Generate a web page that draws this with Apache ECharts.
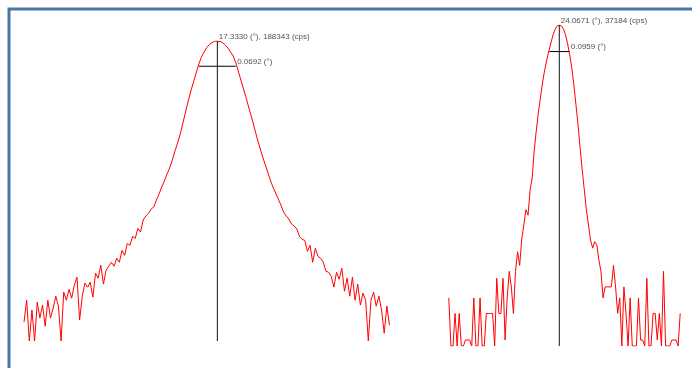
<!DOCTYPE html>
<html><head><meta charset="utf-8">
<script src="https://cdn.jsdelivr.net/npm/echarts@6/dist/echarts.min.js"></script>
<style>html,body{margin:0;padding:0;background:#fff}#c{width:692px;height:368px}</style>
</head><body><div id="c"></div>
<script>
// Left scan: 2θ start/step (deg) and intensities (cps)
const leftStart = 16.968;
const leftStep = 0.005;
const leftCps = [84,153,50,117,50,145,94,134,75,153,94,123,171,130,50,
191,153,207,162,231,288,89,171,244,219,251,167,321,280,400,
238,349,389,434,389,484,434,602,525,729,691,883,836,1099,996,
1384,1545,1655,1871,1978,2396,2825,3423,4036,4892,5768,7182,9196,11450,14660,
19830,26820,36260,47730,61100,78210,100100,121340,139160,157480,171000,180650,186700,188343,
185660,180650,168660,155350,139160,124700,102920,80390,62800,49070,38320,29130,22750,17290,13140,
10260,8017,6436,5168,4150,3423,2904,2463,2089,1724,1545,1423,1240,1174,1081,
883,814,792,586,691,434,636,511,484,434,339,330,296,219,330,
272,368,196,280,171,288,153,238,134,186,153,50,153,191,130,
171,117,62,130,77];

// Right scan
const rightStart = 23.5371;
const rightStep = 0.01;
const rightCps = [30,0,0,20,0,20,0,0,10,10,
10,0,30,0,0,30,0,0,20,20,
20,20,0,50,20,20,50,10,30,60,
40,20,60,100,70,140,200,300,260,502,
687,1427,2404,3846,5690,8414,11510,14950,18910,23300,
28720,33150,36320,37184,36320,33590,28720,22700,17030,12130,
7786,4617,2739,1503,846,502,298,201,136,110,
130,120,80,60,30,40,40,40,40,70,
40,20,30,0,40,20,0,30,0,0,
0,30,10,10,0,50,0,0,20,20,
10,20,0,60,0,0,0,10,10,10,0,20];

// Peak results
const peakAngles = [17.3330, 24.0671];
const peakCps = [188343, 37184];
const fwhms = [0.0692, 0.0959];
const axisMinCps = [50, 8.55];

function pts(start, step, vals, floor){
  return vals.map((v,i)=>[start + i*step, Math.max(v, floor)]);
}

const chart = echarts.init(document.getElementById('c'), null, {renderer:'canvas'});
const font = {fontFamily:'Liberation Sans, Arial, sans-serif', fontSize:8, color:'#222'};

const series = [];
const datasets = [
  {start:leftStart, step:leftStep, vals:leftCps},
  {start:rightStart, step:rightStep, vals:rightCps}
];
datasets.forEach((d,k)=>{
  series.push({type:'line', xAxisIndex:k, yAxisIndex:k, symbol:'none', silent:true,
    lineStyle:{color:'#ff0000', width:1}, data:pts(d.start,d.step,d.vals,axisMinCps[k]), z:2});
  // vertical peak line
  series.push({type:'line', xAxisIndex:k, yAxisIndex:k, symbol:'none', silent:true,
    lineStyle:{color:'#111', width:1}, data:[[peakAngles[k], peakCps[k]],[peakAngles[k], axisMinCps[k]]], z:3});
  // FWHM bar
  const h = peakCps[k]/2;
  series.push({type:'line', xAxisIndex:k, yAxisIndex:k, symbol:'none', silent:true,
    lineStyle:{color:'#000', width:1}, data:[[peakAngles[k]-fwhms[k]/2, h],[peakAngles[k]+fwhms[k]/2, h]], z:3});
  // labels
  series.push({type:'scatter', xAxisIndex:k, yAxisIndex:k, symbolSize:1, silent:true,
    itemStyle:{color:'rgba(0,0,0,0)'},
    data:[
      {value:[peakAngles[k], peakCps[k]], label:{formatter: peakAngles[k].toFixed(4)+' (°), '+peakCps[k]+' (cps)'}},
      {value:[peakAngles[k]+fwhms[k]/2, h], label:{formatter: fwhms[k].toFixed(4)+' (°)'}}
    ],
    label:Object.assign({show:true, position:[2,-4], align:'left', verticalAlign:'middle'}, font), z:4});
});

chart.setOption({
  animation:false,
  backgroundColor:'#fff',
  grid:[
    {left:24, top:41, width:365.5, height:300},
    {left:448.8, top:25, width:231.4, height:321}
  ],
  xAxis:[
    {type:'value', gridIndex:0, min:leftStart, max:leftStart+leftStep*(leftCps.length-1), show:false},
    {type:'value', gridIndex:1, min:rightStart, max:rightStart+rightStep*(rightCps.length-1), show:false}
  ],
  yAxis:[
    {type:'log', gridIndex:0, min:axisMinCps[0], max:peakCps[0], show:false},
    {type:'log', gridIndex:1, min:axisMinCps[1], max:peakCps[1], show:false}
  ],
  graphic:[{type:'rect', shape:{x:9, y:9, width:720, height:400}, style:{fill:'none', stroke:'#4a77a8', lineWidth:3}, silent:true, z:10}],
  series:series
});
</script></body></html>
